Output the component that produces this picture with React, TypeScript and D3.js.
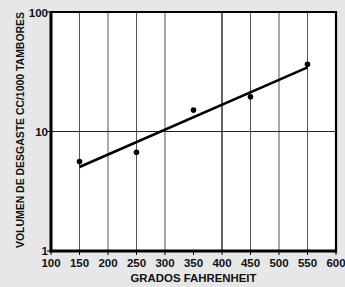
import * as d3 from 'd3'

const temps = [150, 250, 350, 450, 550]
const wear = [5.6, 6.7, 15.1, 19.5, 36.5]
const fitTemps = [150, 550]
const fitWear = [5.05, 34.4]
const xTicks = [100, 150, 200, 250, 300, 350, 400, 450, 500, 550, 600]
const xGrid = [150, 200, 250, 300, 400, 450, 500, 550]
const yTicks = [1, 10, 100]

const width = 345
const height = 287
const left = 51
const right = 336
const top = 12
const bottom = 251
const font = '"Liberation Sans", Arial, sans-serif'

export default function App() {
  const x = d3.scaleLinear().domain([100, 600]).range([left, right])
  const y = d3.scaleLog().domain([1, 100]).range([bottom, top])
  const fit = d3
    .line<number>()
    .x((d) => x(d))
    .y((_, i) => y(fitWear[i]))

  return (
    <svg
      width={width}
      height={height}
      style={{ position: 'absolute', left: 0, top: 0, display: 'block' }}
    >
      <rect width={width} height={height} fill="#e6e7e8" />
      <rect x={left} y={top} width={right - left} height={bottom - top} fill="#fff" />

      {xGrid.map((t) => (
        <line
          key={t}
          x1={x(t)}
          x2={x(t)}
          y1={top}
          y2={bottom}
          stroke={t === 400 ? '#222' : '#555'}
          strokeWidth={t === 400 ? 1.4 : 1}
        />
      ))}
      <line x1={left} x2={right} y1={y(10)} y2={y(10)} stroke="#222" strokeWidth={1} />

      {/* frame */}
      <line x1={left} x2={right} y1={top} y2={top} stroke="#000" strokeWidth={2} />
      <line x1={right} x2={right} y1={top - 1} y2={bottom + 1.5} stroke="#000" strokeWidth={2.2} />
      <line x1={left} x2={left} y1={top - 1} y2={bottom + 1.5} stroke="#000" strokeWidth={3} />
      <line x1={left - 1.5} x2={right + 1} y1={bottom} y2={bottom} stroke="#000" strokeWidth={3} />

      {xTicks.map((t) => (
        <g key={t}>
          <line x1={x(t)} x2={x(t)} y1={bottom} y2={bottom + 4} stroke="#000" strokeWidth={1} />
          <text
            x={x(t)}
            y={bottom + 16}
            textAnchor="middle"
            fontFamily={font}
            fontWeight="bold"
            fontSize={11.5}
            fill="#111"
          >
            {t}
          </text>
        </g>
      ))}
      {yTicks.map((t) => (
        <g key={t}>
          <line x1={left - 4} x2={left} y1={y(t)} y2={y(t)} stroke="#000" strokeWidth={1} />
          <text
            x={left - 3}
            y={y(t) + (t === 1 ? 3.5 : 4.5)}
            textAnchor="end"
            fontFamily={font}
            fontWeight="bold"
            fontSize={11.5}
            fill="#111"
          >
            {t}
          </text>
        </g>
      ))}

      <path d={fit(fitTemps) ?? ''} fill="none" stroke="#000" strokeWidth={2.6} />
      {temps.map((t, i) => (
        <circle key={t} cx={x(t)} cy={y(wear[i])} r={2.8} fill="#000" />
      ))}

      <text
        x={(left + right) / 2}
        y={282}
        textAnchor="middle"
        fontFamily={font}
        fontWeight="bold"
        fontSize={11}
        textLength={126}
        lengthAdjust="spacingAndGlyphs"
        fill="#111"
      >
        GRADOS FAHRENHEIT
      </text>
      <text
        transform={`translate(24, 130) rotate(-90)`}
        textAnchor="middle"
        fontFamily={font}
        fontWeight="bold"
        fontSize={10}
        textLength={236}
        lengthAdjust="spacingAndGlyphs"
        fill="#111"
      >
        VOLUMEN DE DESGASTE CC/1000 TAMBORES
      </text>
    </svg>
  )
}
